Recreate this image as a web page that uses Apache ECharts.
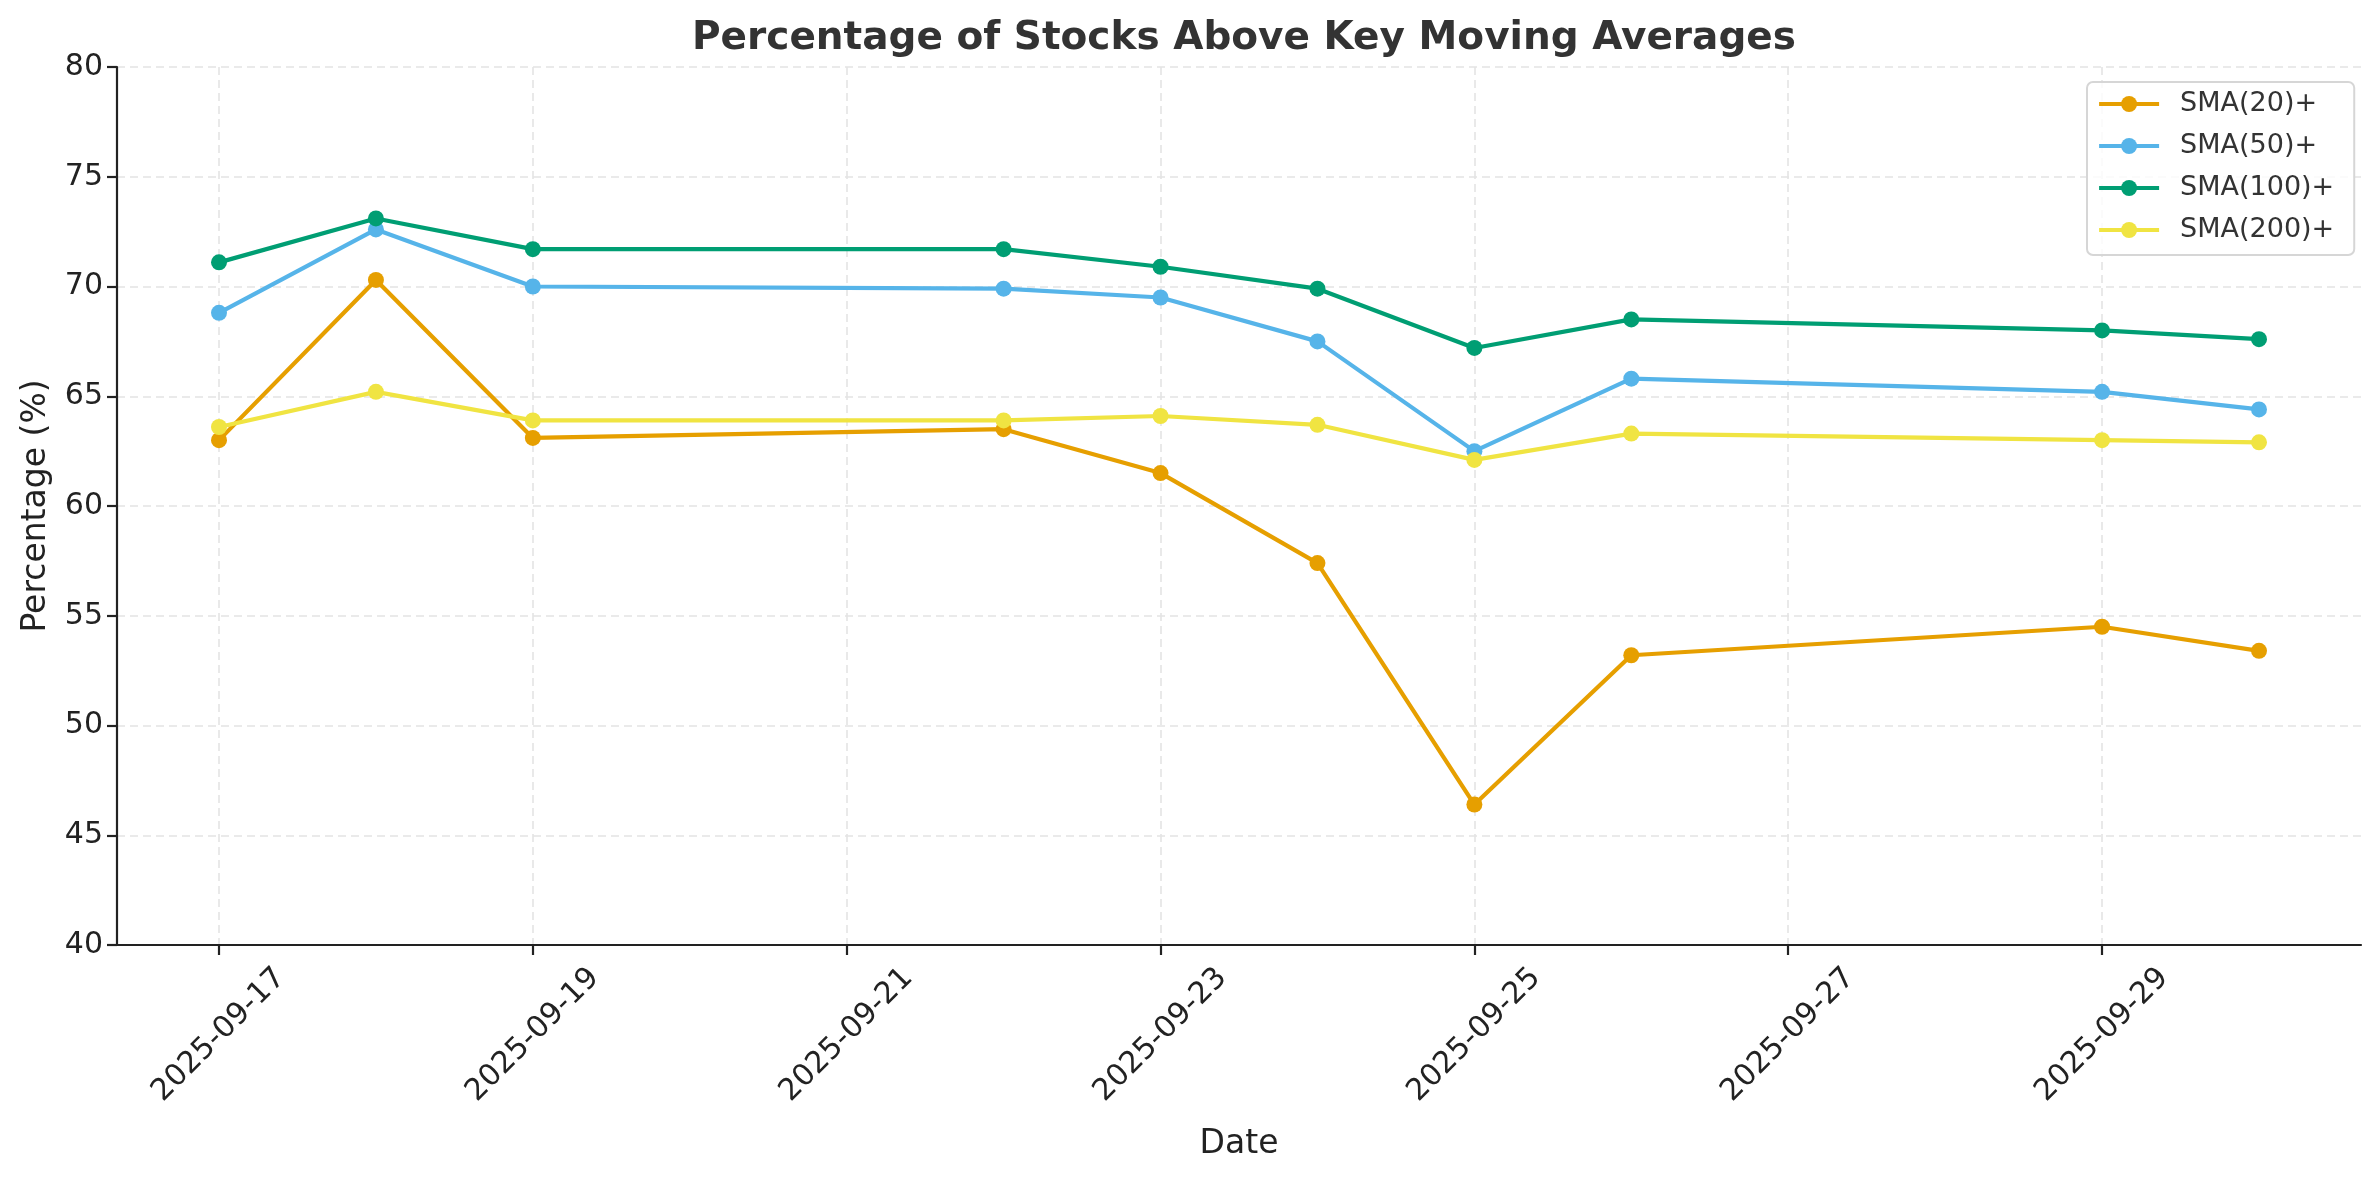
<!DOCTYPE html>
<html>
<head>
<meta charset="utf-8">
<script src="https://cdn.jsdelivr.net/npm/echarts@6/dist/echarts.min.js"></script>
<style>
html,body{margin:0;padding:0;background:#fff;}
#chart{width:2379px;height:1180px;}
</style>
</head>
<body>
<div id="chart"></div>
<script>
const dates = ['2025-09-17','2025-09-18','2025-09-19','2025-09-22','2025-09-23','2025-09-24','2025-09-25','2025-09-26','2025-09-29','2025-09-30'];
const sma20 = [63.0, 70.3, 63.1, 63.5, 61.5, 57.4, 46.4, 53.2, 54.5, 53.4];
const sma50 = [68.8, 72.6, 70.0, 69.9, 69.5, 67.5, 62.5, 65.8, 65.2, 64.4];
const sma100 = [71.1, 73.1, 71.7, 71.7, 70.9, 69.9, 67.2, 68.5, 68.0, 67.6];
const sma200 = [63.6, 65.2, 63.9, 63.9, 64.1, 63.7, 62.1, 63.3, 63.0, 62.9];
const xTicks = ['2025-09-17','2025-09-19','2025-09-21','2025-09-23','2025-09-25','2025-09-27','2025-09-29'];
const yTicks = [40, 45, 50, 55, 60, 65, 70, 75, 80];
const seriesNames = ['SMA(20)+','SMA(50)+','SMA(100)+','SMA(200)+'];
const colors = ['#E69F00','#56B4E9','#009E73','#F0E442'];

const DAY = 86400000;
function toMs(s){ const p = s.split('-').map(Number); return Date.UTC(p[0], p[1]-1, p[2]); }
function pad(n){ return (n<10?'0':'')+n; }
function fmt(v){ const d = new Date(Math.round(v/DAY)*DAY); return d.getUTCFullYear()+'-'+pad(d.getUTCMonth()+1)+'-'+pad(d.getUTCDate()); }
const xMin = toMs(dates[0]) - 0.65*DAY;
const xMax = toMs(dates[dates.length-1]) + 0.65*DAY;

const allSeries = [sma20, sma50, sma100, sma200];
const chart = echarts.init(document.getElementById('chart'), null, {renderer:'canvas'});
const font = 'DejaVu Sans';
chart.setOption({
  animation: false,
  backgroundColor: '#ffffff',
  title: {
    text: 'Percentage of Stocks Above Key Moving Averages',
    left: 1239, top: 14, textAlign: 'center',
    textStyle: {fontFamily: font, fontSize: 39, fontWeight: 'bold', color: '#333333'}
  },
  legend: {
    orient: 'vertical', left: 2087, top: 82,
    data: seriesNames,
    itemWidth: 60, itemHeight: 20, itemGap: 12,
    padding: [7, 20, 10, 10],
    backgroundColor: 'rgba(255,255,255,0.8)',
    borderColor: '#d6d6d6', borderWidth: 2, borderRadius: 6,
    lineStyle: {width: 4.2},
    textStyle: {fontFamily: font, fontSize: 27, color: '#333333', lineHeight: 30, padding: [0,0,0,16]}
  },
  grid: {left: 117, right: 18, top: 67, bottom: 235, containLabel: false, outerBoundsMode: 'none'},
  xAxis: {
    type: 'value', min: xMin, max: xMax, scale: true,
    name: 'Date', nameLocation: 'middle', nameGap: 183,
    nameTextStyle: {fontFamily: font, fontSize: 33, color: '#222222'},
    axisLine: {show: true, onZero: false, lineStyle: {color: '#222222', width: 2.2}},
    axisTick: {show: true, inside: false, length: 10, lineStyle: {color: '#222222', width: 2.2}, customValues: xTicks.map(toMs)},
    axisLabel: {
      customValues: xTicks.map(toMs),
      formatter: function(v){ return fmt(v); },
      rotate: 45, align: 'center', verticalAlign: 'middle', margin: 90,
      fontFamily: font, fontSize: 30, color: '#222222', hideOverlap: false,
      showMinLabel: true, showMaxLabel: true
    },
    splitLine: {show: true, lineStyle: {color: '#e4e4e4', width: 1.6, type: [8, 5]}}
  },
  yAxis: {
    type: 'value', min: yTicks[0], max: yTicks[yTicks.length-1], interval: 5,
    name: 'Percentage (%)', nameLocation: 'middle', nameGap: 64, nameRotate: 90,
    nameTextStyle: {fontFamily: font, fontSize: 33, color: '#222222'},
    axisLine: {show: true, lineStyle: {color: '#222222', width: 2.2}},
    axisTick: {show: true, inside: false, length: 10, lineStyle: {color: '#222222', width: 2.2}},
    axisLabel: {margin: 14, fontFamily: font, fontSize: 30, color: '#222222'},
    splitLine: {show: true, lineStyle: {color: '#e4e4e4', width: 1.6, type: [8, 5]}}
  },
  series: allSeries.map(function(vals, i){
    return {
      name: seriesNames[i], type: 'line',
      data: dates.map(function(d, j){ return [toMs(d), vals[j]]; }),
      symbol: 'circle', symbolSize: 16, showSymbol: true,
      lineStyle: {color: colors[i], width: 4.2},
      itemStyle: {color: colors[i], borderWidth: 0},
      emphasis: {disabled: true},
      z: 2 + i
    };
  })
});
</script>
</body>
</html>
